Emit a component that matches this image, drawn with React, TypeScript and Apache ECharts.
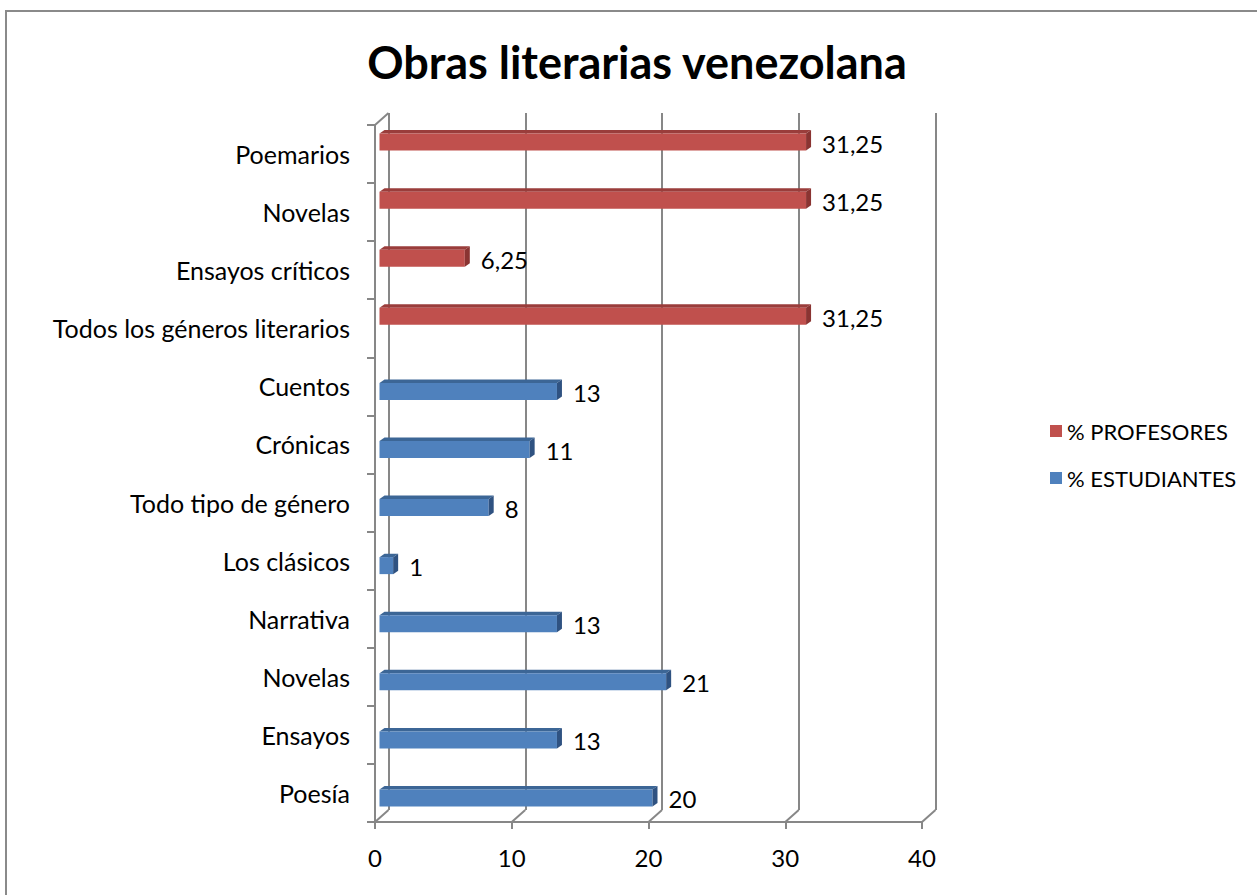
import React, { useEffect, useRef } from "react";
import * as echarts from "echarts";

const categories = [
  "Poesía",
  "Ensayos",
  "Novelas",
  "Narrativa",
  "Los clásicos",
  "Todo tipo de género",
  "Crónicas",
  "Cuentos",
  "Todos los géneros literarios",
  "Ensayos críticos",
  "Novelas",
  "Poemarios",
];
const profesores: (number | null)[] = [null, null, null, null, null, null, null, null, 31.25, 6.25, 31.25, 31.25];
const estudiantes: (number | null)[] = [20, 13, 21, 13, 1, 8, 11, 13, null, null, null, null];
const xTicks = [0, 10, 20, 30, 40];
const seriesNames = ["% PROFESORES", "% ESTUDIANTES"];

const FONT = "Lato";
const GRAY = "#878787";
const DX = 13.5;
const DY = 12;
const BAR_H = 17;
const BAR_DX = 5;
const BAR_DY = 3.5;

const palettes = [
  { front: "#C0504D", top: "#9A3D3B", side: "#8A3432" },
  { front: "#4F81BD", top: "#3C6696", side: "#2F5281" },
];

function toData(arr: (number | null)[]) {
  const out: number[][] = [];
  arr.forEach((v, i) => {
    if (v !== null) out.push([v, i]);
  });
  return out;
}

function fmt(v: number) {
  return String(v).replace(".", ",");
}

function makeBarRender(si: number) {
  const pal = palettes[si];
  return (params: any, api: any) => {
    const v = api.value(0);
    const idx = api.value(1);
    const s = api.coord([0, idx]);
    const e = api.coord([v, idx]);
    const top = si === 0 ? s[1] - BAR_H : s[1];
    const x0 = s[0];
    const x1 = e[0];
    return {
      type: "group",
      children: [
        {
          type: "polygon",
          shape: {
            points: [
              [x0, top],
              [x0 + BAR_DX, top - BAR_DY],
              [x1 + BAR_DX, top - BAR_DY],
              [x1, top],
            ],
          },
          style: { fill: pal.top },
        },
        {
          type: "rect",
          shape: { x: x0, y: top, width: x1 - x0, height: BAR_H },
          style: { fill: pal.front },
        },
        {
          type: "polygon",
          shape: {
            points: [
              [x1, top],
              [x1 + BAR_DX, top - BAR_DY],
              [x1 + BAR_DX, top + BAR_H - BAR_DY],
              [x1, top + BAR_H],
            ],
          },
          style: { fill: pal.side },
        },
        {
          type: "text",
          style: {
            text: fmt(v),
            x: x1 + BAR_DX + 11,
            y: top + BAR_H / 2 + 1,
            verticalAlign: "middle",
            align: "left",
            fill: "#000",
            font: `24px ${FONT}`,
          },
        },
      ],
    };
  };
}

function decorRender(params: any, api: any) {
  const cs = params.coordSys;
  const v = api.value(0);
  const x = api.coord([v, 0])[0];
  const bottom = cs.y + cs.height;
  const children: any[] = [
    {
      type: "line",
      shape: { x1: x, y1: bottom, x2: x + DX, y2: bottom - DY },
      style: { stroke: GRAY, lineWidth: 2 },
    },
  ];
  if (params.dataIndex === 0) {
    children.push({
      type: "line",
      shape: { x1: cs.x, y1: cs.y, x2: cs.x + DX, y2: cs.y - DY },
      style: { stroke: GRAY, lineWidth: 2 },
    });
  }
  return { type: "group", children };
}

export default function App() {
  const ref = useRef<HTMLDivElement>(null);
  useEffect(() => {
    if (!ref.current) return;
    const chart = echarts.init(ref.current, null, { renderer: "svg" });
    const hiddenAxis = { show: false };
    chart.setOption({
      animation: false,
      backgroundColor: "#fff",
      textStyle: { fontFamily: FONT },
      title: {
        text: "Obras literarias venezolana",
        left: 632,
        top: 34,
        textAlign: "center",
        textStyle: { fontFamily: FONT, fontSize: 45, fontWeight: "bold", color: "#000" },
      },
      legend: {
        data: seriesNames,
        orient: "vertical",
        left: 1045,
        top: 415,
        itemWidth: 12,
        itemHeight: 12,
        itemGap: 25,
        icon: "rect",
        textStyle: { fontFamily: FONT, fontSize: 22, color: "#000" },
      },
      graphic: [
        {
          type: "rect",
          shape: { x: 6, y: 11, width: 1400, height: 1000 },
          style: { fill: "none", stroke: "#8a8a8a", lineWidth: 2 },
          silent: true,
        },
      ],
      grid: [
        { left: 375, top: 125, width: 547, height: 697 },
        { left: 388.5, top: 113, width: 547, height: 697 },
        { left: 379.5, top: 121.5, width: 546, height: 697 },
      ],
      xAxis: [
        {
          gridIndex: 0,
          type: "value",
          min: 0,
          max: 40,
          interval: 10,
          axisLine: { show: true, lineStyle: { color: GRAY, width: 2 } },
          axisTick: { show: true, length: 7, lineStyle: { color: GRAY, width: 2 } },
          axisLabel: { fontFamily: FONT, fontSize: 24, color: "#000", margin: 23 },
          splitLine: { show: false },
        },
        {
          gridIndex: 1,
          type: "value",
          min: 0,
          max: 40,
          interval: 10,
          axisLine: { show: false },
          axisTick: { show: false },
          axisLabel: { show: false },
          splitLine: { show: true, lineStyle: { color: GRAY, width: 2 } },
        },
        { gridIndex: 2, type: "value", min: 0, max: 40, interval: 10, ...hiddenAxis },
      ],
      yAxis: [
        {
          gridIndex: 0,
          type: "category",
          data: categories,
          axisLine: { show: true, lineStyle: { color: GRAY, width: 2 } },
          axisTick: { show: true, length: 8, lineStyle: { color: GRAY, width: 2 } },
          axisLabel: { fontFamily: FONT, fontSize: 25, color: "#000", margin: 25 },
          splitLine: { show: false },
        },
        { gridIndex: 1, type: "category", data: categories, ...hiddenAxis },
        { gridIndex: 2, type: "category", data: categories, ...hiddenAxis },
      ],
      series: [
        {
          type: "custom",
          name: "decor",
          xAxisIndex: 0,
          yAxisIndex: 0,
          silent: true,
          data: xTicks.map((v) => [v]),
          renderItem: decorRender,
          z: 1,
        },
        {
          type: "custom",
          name: seriesNames[0],
          xAxisIndex: 2,
          yAxisIndex: 2,
          itemStyle: { color: palettes[0].front },
          data: toData(profesores),
          encode: { x: 0, y: 1 },
          renderItem: makeBarRender(0),
          z: 3,
        },
        {
          type: "custom",
          name: seriesNames[1],
          xAxisIndex: 2,
          yAxisIndex: 2,
          itemStyle: { color: palettes[1].front },
          data: toData(estudiantes),
          encode: { x: 0, y: 1 },
          renderItem: makeBarRender(1),
          z: 3,
        },
      ],
    });
    return () => chart.dispose();
  }, []);
  return <div ref={ref} style={{ position: "fixed", left: 0, top: 0, width: 1257, height: 895 }} />;
}
